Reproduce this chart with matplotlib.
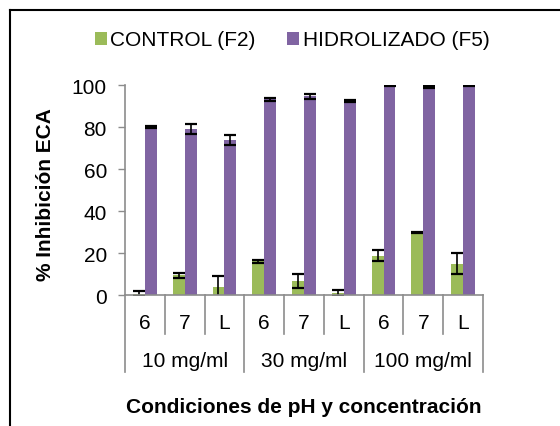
import matplotlib
matplotlib.use('Agg')
import matplotlib.pyplot as plt
from matplotlib.lines import Line2D
import numpy as np

# data
ph_labels = ['6', '7', 'L', '6', '7', 'L', '6', '7', 'L']
groups = ['10 mg/ml', '30 mg/ml', '100 mg/ml']
control = [0.5, 9.4, 3.7, 16.0, 6.7, 1.0, 18.7, 29.7, 14.9]
control_err = [1.2, 1.3, 5.5, 0.9, 3.2, 1.5, 2.5, 0.3, 4.9]
hidrolizado = [80.2, 79.0, 73.6, 93.2, 94.6, 92.4, 99.7, 99.1, 99.7]
hidrolizado_err = [0.5, 2.4, 2.4, 0.8, 1.1, 0.3, 0.2, 0.5, 0.2]

green = '#9BBB59'
purple = '#8064A2'
grey = '#8C8C8C'

plt.rcParams['font.family'] = ['Liberation Sans', 'DejaVu Sans']
plt.rcParams['font.size'] = 15

fig = plt.figure(figsize=(5.6, 4.27), dpi=100)
ax = fig.add_axes([125/560, 131/427, 358/560, 210/427])

x = np.arange(len(ph_labels))
w = 0.3
err_kw = dict(elinewidth=1.2, capsize=4.6, capthick=1.6, ecolor='black')
ax.bar(x - w/2, control, w, color=green, yerr=control_err, error_kw=err_kw,
       label='CONTROL (F2)')
ax.bar(x + w/2, hidrolizado, w, color=purple, yerr=hidrolizado_err, error_kw=err_kw,
       label='HIDROLIZADO (F5)')

ax.set_xlim(-0.5, len(ph_labels) - 0.5)
ax.set_ylim(0, 100)
ax.set_yticks([0, 20, 40, 60, 80, 100])
ax.tick_params(axis='y', direction='out', length=5, width=1, color=grey, pad=8)
ax.set_xticks([])
for s in ['top', 'right']:
    ax.spines[s].set_visible(False)
for s in ['left', 'bottom']:
    ax.spines[s].set_color(grey)
    ax.spines[s].set_linewidth(1.2)

# two-level category axis
tr = ax.get_xaxis_transform()
for i in range(len(ph_labels) + 1):
    xb = i - 0.5
    low = -0.367 if i % 3 == 0 else -0.186
    ax.plot([xb, xb], [0, low], color=grey, lw=1.2, transform=tr, clip_on=False)
for i, lab in enumerate(ph_labels):
    ax.text(i, -0.129, lab, transform=tr, ha='center', va='center')
for g, lab in enumerate(groups):
    ax.text(3*g + 1, -0.314, lab, transform=tr, ha='center', va='center')

ax.text(0.5, -0.529, 'Condiciones de pH y concentración', transform=ax.transAxes,
        ha='center', va='center', fontweight='bold')
ax.set_ylabel('% Inhibición ECA', fontweight='bold')
ax.yaxis.set_label_coords(-0.196, 0.485)

fig.legend(loc='center', bbox_to_anchor=(292/560, 1 - 41/427), ncol=2, frameon=False,
           handlelength=0.6, handleheight=0.6, handletextpad=0.15, columnspacing=1.5)

# chart border (only left and top visible)
fig.add_artist(Line2D([9.5/560, 9.5/560], [0, 1 - 10.5/427], color='black', lw=1.5,
                      transform=fig.transFigure))
fig.add_artist(Line2D([9.5/560, 1], [1 - 10.5/427, 1 - 10.5/427], color='black', lw=1.5,
                      transform=fig.transFigure))

fig.savefig('out.png', dpi=100)
